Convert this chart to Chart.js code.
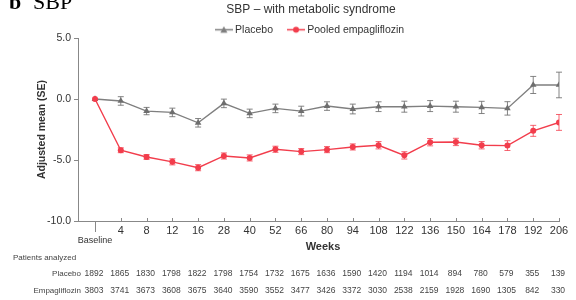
<!DOCTYPE html>
<html>
<head>
<meta charset="utf-8">
<script src="https://cdn.jsdelivr.net/npm/chart.js@4.4.0/dist/chart.umd.min.js"></script>
<style>
html, body { margin: 0; padding: 0; background: #fff; }
#wrap { width: 576px; height: 300px; }
</style>
</head>
<body>
<div id="wrap"><canvas id="sbpChart" width="576" height="300"></canvas></div>
<script>
// weeks on the x axis (Baseline first)
var weeks = ['Baseline', '4', '8', '12', '16', '28', '40', '52', '66', '80', '94',
             '108', '122', '136', '150', '164', '178', '192', '206'];

// adjusted mean change and SE
var placeboMean = [0, -0.16, -0.99, -1.1, -1.95, -0.36, -1.18, -0.77, -0.99, -0.58, -0.82,
                   -0.63, -0.63, -0.58, -0.63, -0.69, -0.77, 1.15, 1.15];
var placeboSE   = [0, 0.35, 0.3, 0.35, 0.35, 0.35, 0.35, 0.35, 0.4, 0.35, 0.4,
                   0.4, 0.45, 0.45, 0.45, 0.5, 0.55, 0.7, 1.05];
var empaMean    = [0, -4.2, -4.75, -5.15, -5.63, -4.67, -4.83, -4.12, -4.31, -4.15, -3.93,
                   -3.79, -4.62, -3.54, -3.52, -3.79, -3.82, -2.61, -1.92];
var empaSE      = [0, 0.2, 0.2, 0.25, 0.25, 0.25, 0.25, 0.25, 0.25, 0.25, 0.25,
                   0.3, 0.3, 0.3, 0.3, 0.3, 0.4, 0.45, 0.65];

// patients analyzed
var placeboN = [1892, 1865, 1830, 1798, 1822, 1798, 1754, 1732, 1675, 1636, 1590,
                1420, 1194, 1014, 894, 780, 579, 355, 139];
var empaN    = [3803, 3741, 3673, 3608, 3675, 3640, 3590, 3552, 3477, 3426, 3372,
                3030, 2538, 2159, 1928, 1690, 1305, 842, 330];

var yTicks = [5, 0, -5, -10];

var GRAY = '#7f7f7f';
var RED = '#f23d4c';
var FONT = "'Liberation Sans', Arial, sans-serif";

Chart.defaults.font.family = FONT;
Chart.defaults.color = '#333';

function toPoints(arr) {
    return arr.map(function (v, i) { return { x: i, y: v }; });
}

// little line+marker picture for the legend
function legendIcon(color, style) {
    var c = document.createElement('canvas');
    c.width = 18; c.height = 9;
    var g = c.getContext('2d');
    g.strokeStyle = color; g.fillStyle = color; g.lineWidth = 1.5;
    g.beginPath(); g.moveTo(0, 4.5); g.lineTo(18, 4.5); g.stroke();
    g.beginPath();
    if (style === 'triangle') {
        g.moveTo(9, 1); g.lineTo(12.5, 7.5); g.lineTo(5.5, 7.5); g.closePath();
    } else {
        g.arc(9, 4.5, 3, 0, Math.PI * 2);
    }
    g.fill();
    return c;
}

function drawErrorBars(chart, dsIndex, se, color) {
    var meta = chart.getDatasetMeta(dsIndex);
    var ys = chart.scales.y;
    var vals = chart.data.datasets[dsIndex].data;
    var ctx = chart.ctx;
    ctx.save();
    ctx.strokeStyle = color;
    ctx.lineWidth = 1;
    meta.data.forEach(function (pt, i) {
        if (!se[i]) return;
        var top = ys.getPixelForValue(vals[i].y + se[i]);
        var bot = ys.getPixelForValue(vals[i].y - se[i]);
        ctx.beginPath();
        ctx.moveTo(pt.x, top); ctx.lineTo(pt.x, bot);
        ctx.moveTo(pt.x - 3, top); ctx.lineTo(pt.x + 3, top);
        ctx.moveTo(pt.x - 3, bot); ctx.lineTo(pt.x + 3, bot);
        ctx.stroke();
    });
    ctx.restore();
}

var extras = {
    id: 'extras',
    beforeInit: function (chart) {
        var fit = chart.legend.fit;
        chart.legend.fit = function () {
            fit.call(this);
            this.height = 30.5;
        };
    },
    afterLayout: function (chart) {
        // centre the legend over the plot rather than the whole canvas
        chart.legend.left = 63;
        chart.legend.right = chart.chartArea.right;
    },
    beforeDatasetsDraw: function (chart) {
        drawErrorBars(chart, 0, placeboSE, 'rgba(110,110,110,0.85)');
        drawErrorBars(chart, 1, empaSE, 'rgba(242,61,76,0.8)');
    },
    afterDraw: function (chart) {
        var ctx = chart.ctx;
        var xs = chart.scales.x;
        var area = chart.chartArea;
        ctx.save();

        // panel letter
        ctx.fillStyle = '#000';
        ctx.textBaseline = 'alphabetic';
        ctx.textAlign = 'left';
        ctx.font = "bold 22px 'Liberation Serif', serif";
        ctx.fillText('b', 9, 9);
        ctx.font = "22px 'Liberation Serif', serif";
        ctx.fillText('SBP', 33, 9);

        // title
        ctx.fillStyle = '#333';
        ctx.textAlign = 'center';
        ctx.textBaseline = 'middle';
        ctx.font = '12px ' + FONT;
        ctx.fillText('SBP \u2013 with metabolic syndrome', (chart.legend.left + chart.legend.right) / 2, 10);

        // y axis title
        ctx.save();
        ctx.translate(42, (area.top + area.bottom) / 2);
        ctx.rotate(-Math.PI / 2);
        ctx.font = 'bold 10.5px ' + FONT;
        ctx.fillText('Adjusted mean (SE)', 0, 0);
        ctx.restore();

        // x tick marks: up for weeks, down for baseline
        ctx.strokeStyle = '#888';
        ctx.lineWidth = 1;
        ctx.beginPath();
        for (var i = 0; i < weeks.length; i++) {
            var px = Math.round(xs.getPixelForValue(i)) + 0.5;
            if (i === 0) {
                ctx.moveTo(px, area.bottom); ctx.lineTo(px, area.bottom + 11);
            } else {
                ctx.moveTo(px, area.bottom); ctx.lineTo(px, area.bottom - 3);
            }
        }
        ctx.stroke();

        ctx.fillStyle = '#333';
        ctx.font = 'bold 11px ' + FONT;
        ctx.fillText('Weeks', 323, 247);

        // patients analyzed table
        ctx.fillStyle = '#444';
        ctx.font = '8px ' + FONT;
        ctx.textAlign = 'left';
        ctx.fillText('Patients analyzed', 13, 258);
        ctx.textAlign = 'right';
        ctx.fillText('Placebo', 81, 274);
        ctx.fillText('Empagliflozin', 81, 291);
        ctx.textAlign = 'center';
        ctx.font = '8.5px ' + FONT;
        for (var j = 0; j < weeks.length; j++) {
            var cx = xs.getPixelForValue(j) - 1;
            ctx.fillText(String(placeboN[j]), cx, 274);
            ctx.fillText(String(empaN[j]), cx, 291);
        }
        ctx.restore();
    }
};

var ctx = document.getElementById('sbpChart').getContext('2d');
var sbpChart = new Chart(ctx, {
    type: 'line',
    data: {
        datasets: [{
            label: 'Placebo',
            data: toPoints(placeboMean),
            borderColor: GRAY,
            backgroundColor: '#6e6e6e',
            borderWidth: 1.4,
            pointStyle: 'triangle',
            pointRadius: 3.8,
            pointBorderWidth: 0,
            order: 1
        }, {
            label: 'Pooled empagliflozin',
            data: toPoints(empaMean),
            borderColor: RED,
            backgroundColor: RED,
            borderWidth: 1.4,
            pointStyle: 'circle',
            pointRadius: 3,
            pointBorderWidth: 0,
            order: 0
        }]
    },
    options: {
        responsive: false,
        animation: false,
        devicePixelRatio: 1,
        layout: { padding: { left: 0, right: 17, top: 7.5, bottom: 0 } },
        plugins: {
            title: { display: false },
            tooltip: { enabled: false },
            legend: {
                position: 'top',
                labels: {
                    usePointStyle: true,
                    pointStyleWidth: 12,
                    padding: 17,
                    color: '#333',
                    font: { size: 10.5 },
                    generateLabels: function (chart) {
                        return [
                            { text: 'Placebo', pointStyle: legendIcon(GRAY, 'triangle'), fontColor: '#333', lineWidth: 0, strokeStyle: 'transparent', fillStyle: GRAY, datasetIndex: 0 },
                            { text: 'Pooled empagliflozin', pointStyle: legendIcon(RED, 'circle'), fontColor: '#333', lineWidth: 0, strokeStyle: 'transparent', fillStyle: RED, datasetIndex: 1 }
                        ];
                    }
                }
            }
        },
        scales: {
            x: {
                type: 'linear',
                min: -0.66,
                max: weeks.length - 1,
                afterFit: function (scale) { scale.height = 79; },
                grid: { display: false, drawTicks: false },
                border: { display: true, color: '#888', width: 1 },
                ticks: {
                    stepSize: 1,
                    includeBounds: false,
                    autoSkip: false,
                    maxRotation: 0,
                    padding: 3,
                    color: '#333',
                    font: function (c) { return c.index === 0 ? { size: 9 } : { size: 11 }; },
                    callback: function (v) {
                        if (v === 0) return ['', weeks[0]];
                        return weeks[v];
                    }
                }
            },
            y: {
                min: yTicks[yTicks.length - 1],
                max: yTicks[0],
                afterFit: function (scale) { scale.width = 78; },
                afterBuildTicks: function (scale) {
                    scale.ticks = yTicks.map(function (v) { return { value: v }; });
                },
                grid: { drawOnChartArea: false, drawTicks: true, tickLength: 4, color: '#888' },
                border: { display: true, color: '#888', width: 1 },
                ticks: {
                    padding: 3,
                    color: '#333',
                    font: { size: 10.5 },
                    callback: function (v) { return v.toFixed(1); }
                }
            }
        }
    },
    plugins: [extras]
});
</script>
</body>
</html>
